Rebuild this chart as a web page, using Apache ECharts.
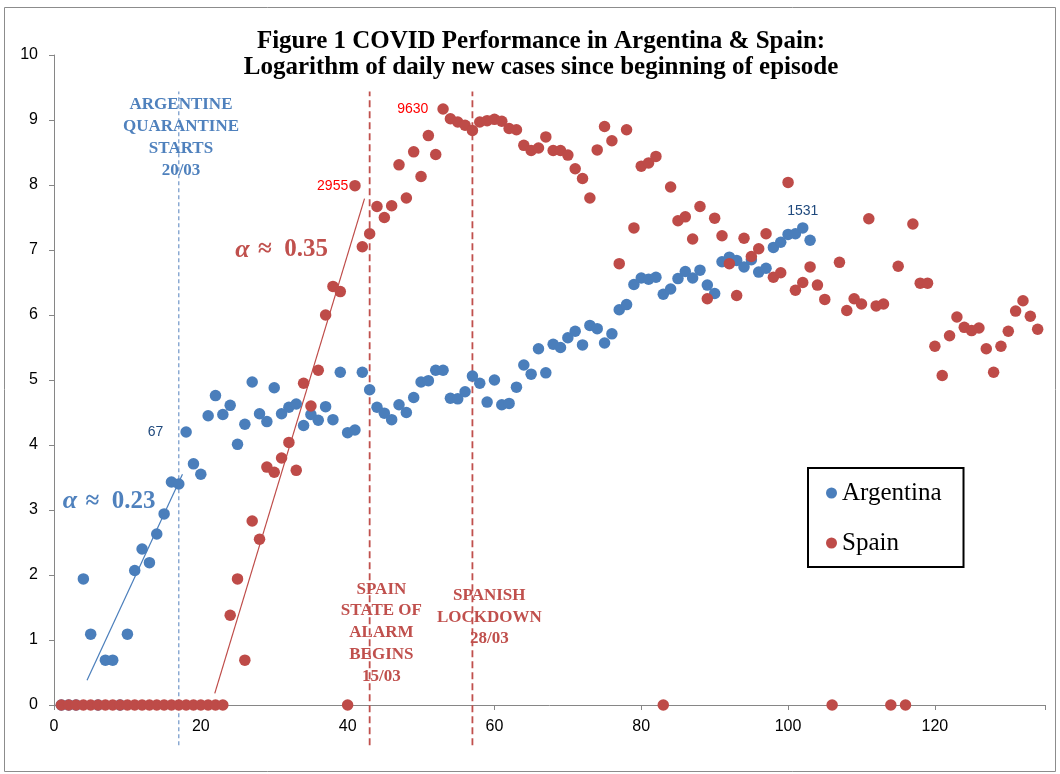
<!DOCTYPE html>
<html>
<head>
<meta charset="utf-8">
<script src="https://cdn.jsdelivr.net/npm/echarts@6/dist/echarts.min.js"></script>
<style>
  html, body { margin: 0; background: #fff; }
  #chart { width: 1060px; height: 774px; }
</style>
</head>
<body>
<div id="chart"></div>
<script>
// log of daily new cases, day 1 .. n
const argentina = [
  0, 0, 0, 1.94, 1.09, 0, 0.69, 0.69, 0, 1.09,
  2.07, 2.40, 2.19, 2.63, 2.94, 3.43, 3.40, 4.20, 3.71, 3.55,
  4.45, 4.76, 4.47, 4.61, 4.01, 4.32, 4.97, 4.48, 4.36, 4.88,
  4.48, 4.58, 4.63, 4.30, 4.47, 4.38, 4.59, 4.39, 5.12, 4.19,
  4.23, 5.12, 4.85, 4.58, 4.49, 4.39, 4.62, 4.50, 4.73, 4.97,
  4.99, 5.15, 5.15, 4.72, 4.71, 4.82, 5.06, 4.95, 4.66, 5.00,
  4.62, 4.64, 4.89, 5.23, 5.09, 5.48, 5.11, 5.55, 5.50, 5.65,
  5.75, 5.54, 5.84, 5.79, 5.57, 5.71, 6.08, 6.16, 6.47, 6.57,
  6.55, 6.58, 6.32, 6.40, 6.56, 6.67, 6.57, 6.69, 6.46, 6.33,
  6.82, 6.89, 6.84, 6.74, 6.85, 6.66, 6.72, 7.04, 7.12, 7.24,
  7.25, 7.34, 7.15
];
const spain = [
  0, 0, 0, 0, 0, 0, 0, 0, 0, 0,
  0, 0, 0, 0, 0, 0, 0, 0, 0, 0,
  0, 0, 0, 1.38, 1.94, 0.69, 2.83, 2.55, 3.66, 3.58,
  3.80, 4.04, 3.61, 4.95, 4.60, 5.15, 6.00, 6.44, 6.36, 0,
  7.99, 7.05, 7.25, 7.67, 7.50, 7.68, 8.31, 7.80, 8.51, 8.13,
  8.76, 8.47, 9.17, 9.02, 8.97, 8.92, 8.84, 8.97, 8.99, 9.01,
  8.98, 8.87, 8.85, 8.61, 8.53, 8.57, 8.74, 8.53, 8.53, 8.46,
  8.25, 8.10, 7.80, 8.54, 8.90, 8.68, 6.79, 8.85, 7.34, 8.29,
  8.34, 8.44, 0, 7.97, 7.45, 7.51, 7.17, 7.67, 6.25, 7.49,
  7.22, 6.79, 6.30, 7.18, 6.90, 7.02, 7.25, 6.58, 6.65, 8.04,
  6.38, 6.50, 6.74, 6.46, 6.24, 0, 6.81, 6.07, 6.25, 6.17,
  7.48, 6.14, 6.17, 0, 6.75, 0, 7.40, 6.49, 6.49, 5.52,
  5.07, 5.68, 5.97, 5.81, 5.76, 5.80, 5.48, 5.12, 5.52, 5.75,
  6.06, 6.22, 5.98, 5.78
];
// raw case counts shown next to some points (day -> text)
const argLabels = { 18: '67', 102: '1531' };
const spainLabels = { 41: '2955', 53: '9630' };
// policy dates (day on x axis)
const argQuarantineDay = 17;
const spainAlarmDay = 43;
const spainLockdownDay = 57;
// fitted trend segments
const argTrend = [[4.5, 0.38], [17.5, 3.55]];
const spainTrend = [[21.9, 0.18], [42.3, 7.79]];

const BLUE = '#4A7EBB', RED = '#BE4B48';
const serif = 'Liberation Serif, DejaVu Serif, serif';
const sans = 'Liberation Sans, Arial, sans-serif';

function toPoints(arr, labels, color, pos, dist) {
  return arr.map((v, i) => {
    const day = i + 1;
    if (labels[day]) {
      return {
        value: [day, v],
        label: { show: true, formatter: labels[day], position: pos(day), distance: dist(day),
                 color: color, fontFamily: sans, fontSize: 14 }
      };
    }
    return [day, v];
  });
}

const vline = (day, color, dash, width) => ({
  type: 'line', silent: true, clip: false, symbol: 'none', z: 1,
  data: [[day, -0.62], [day, 9.44]],
  lineStyle: { color: color, width: width, type: dash }
});

const alpha = (txt, color) => ({
  formatter: '{a|α}  {b|≈  ' + txt + '}', color: color,
  rich: { a: { fontStyle: 'italic', fontFamily: serif, fontSize: 26, color: color },
          b: { fontWeight: 'bold', fontFamily: serif, fontSize: 25, color: color } }
});

const chart = echarts.init(document.getElementById('chart'));
chart.setOption({
  animation: false,
  graphic: [
    { type: 'rect', shape: { x: 4.5, y: 7.5, width: 1051, height: 764 },
      style: { fill: 'none', stroke: '#8c8c8c', lineWidth: 1 } },
    { type: 'text', x: 541, y: 55, z: 10,
      style: { text: 'Figure 1 COVID Performance in Argentina & Spain:\nLogarithm of daily new cases since beginning of episode',
               textAlign: 'center', textVerticalAlign: 'middle', fontFamily: serif,
               fontWeight: 'bold', fontSize: 25, lineHeight: 26, fill: '#000' } }
  ],
  grid: { left: 54, right: 15, top: 55, bottom: 69 },
  legend: {
    data: ['Argentina', 'Spain'],
    orient: 'vertical', left: 808, top: 468,
    padding: [12, 22, 11, 18], itemGap: 24,
    itemWidth: 11, itemHeight: 11, icon: 'circle',
    borderColor: '#000', borderWidth: 2,
    textStyle: { fontFamily: serif, fontSize: 25, lineHeight: 26, color: '#000' }
  },
  xAxis: {
    type: 'value', min: 0, max: 135, interval: 20,
    splitLine: { show: false },
    axisLine: { show: true, lineStyle: { color: '#868686' } },
    axisTick: { show: true, length: 5, lineStyle: { color: '#868686' } },
    axisLabel: { fontFamily: sans, fontSize: 16, color: '#000', margin: 14,
                 formatter: v => (v % 20 === 0 ? v : '') }
  },
  yAxis: {
    type: 'value', min: 0, max: 10, interval: 1,
    splitLine: { show: false },
    axisLine: { show: true, lineStyle: { color: '#868686' } },
    axisTick: { show: true, length: 5, lineStyle: { color: '#868686' } },
    axisLabel: { fontFamily: sans, fontSize: 16, color: '#000', margin: 16 }
  },
  series: [
    vline(argQuarantineDay, '#6f95c8', [4, 3], 1.2),
    vline(spainAlarmDay, '#C0504D', [7, 4], 1.8),
    vline(spainLockdownDay, '#C0504D', [7, 4], 1.8),
    {
      name: 'Argentina', type: 'scatter', symbolSize: 11.5, z: 3,
      itemStyle: { color: BLUE, opacity: 1 },
      data: toPoints(argentina, argLabels, '#1F497D',
        d => (d === 102 ? 'top' : 'left'), d => (d === 102 ? 4 : 17))
    },
    {
      name: 'Spain', type: 'scatter', symbolSize: 11.5, z: 4,
      itemStyle: { color: RED, opacity: 1 },
      data: toPoints(spain, spainLabels, '#FF0000',
        d => 'left', d => (d === 41 ? 1 : 9))
    },
    { type: 'line', silent: true, symbol: 'none', z: 2, data: argTrend,
      lineStyle: { color: BLUE, width: 1.2 } },
    { type: 'line', silent: true, symbol: 'none', z: 2, data: spainTrend,
      lineStyle: { color: RED, width: 1.2 } },
    {
      type: 'scatter', silent: true, symbolSize: 0, z: 6,
      itemStyle: { opacity: 1 },
      label: { show: true, position: 'inside', align: 'center', verticalAlign: 'middle',
               fontFamily: serif, fontWeight: 'bold', fontSize: 17, lineHeight: 21.8 },
      data: [
        { value: [17.3, 8.73], label: { formatter: 'ARGENTINE\nQUARANTINE\nSTARTS\n20/03', color: '#4F81BD' } },
        { value: [44.6, 1.11], label: { formatter: 'SPAIN\nSTATE OF\nALARM\nBEGINS\n15/03', color: '#C0504D' } },
        { value: [59.3, 1.35], label: { formatter: 'SPANISH\nLOCKDOWN\n28/03', color: '#C0504D' } },
        { value: [31, 7.0], label: alpha('0.35', '#C0504D') },
        { value: [7.5, 3.13], label: alpha('0.23', '#4F81BD') }
      ]
    }
  ]
});
</script>
</body>
</html>
